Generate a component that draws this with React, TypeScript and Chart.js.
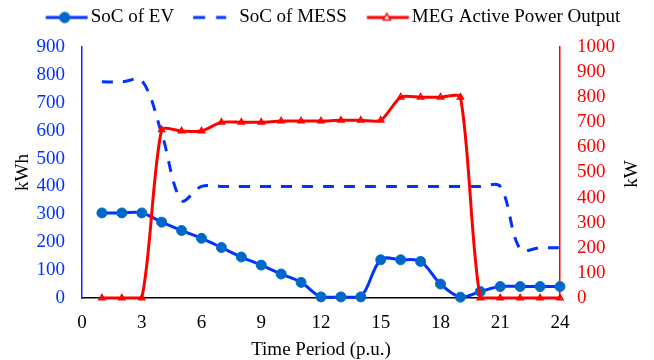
import React, { useEffect, useRef } from "react";
import { Chart, registerables } from "chart.js";

Chart.register(...registerables);

// ---------- data ----------
const periods = [1, 2, 3, 4, 5, 6, 7, 8, 9, 10, 11, 12, 13, 14, 15, 16, 17, 18, 19, 20, 21, 22, 23, 24];
const evSoC = [305, 305, 305, 272, 242, 214, 181, 147, 118, 86, 56, 4, 4, 4, 137, 137, 131, 50, 3, 23, 41, 41, 41, 41];
const messSoC = [775, 775, 780, 590, 350, 400, 400, 400, 400, 400, 400, 400, 400, 400, 400, 400, 400, 400, 400, 400, 400, 175, 180, 180];
const megPower = [0, 0, 0, 670, 665, 665, 700, 700, 700, 705, 705, 705, 708, 708, 708, 800, 800, 800, 800, 0, 0, 0, 0, 0];
const legendLabels = ["SoC of EV", "SoC of MESS", "MEG Active Power Output"];
const xTitle = "Time Period (p.u.)";
const leftTitle = "kWh";
const rightTitle = "kW";

// ---------- style ----------
const FONT = "'Liberation Serif', 'Times New Roman', Times, serif";
const FS = 19;
const BLUE = "#0033FF";
const EV_FILL = "#0066CC";
const EV_EDGE = "#0070C0";
const RED = "#FF0000";

function makeLegendImage(kind: "ev" | "mess" | "meg"): HTMLCanvasElement {
  const W = 62;
  const H = 16;
  const c = document.createElement("canvas");
  c.width = W;
  c.height = H;
  const ctx = c.getContext("2d")!;
  const x0 = 19.25;
  const x1 = 61.25;
  const y = H / 2;
  ctx.lineWidth = 3;
  if (kind === "ev") {
    ctx.strokeStyle = BLUE;
    ctx.beginPath();
    ctx.moveTo(x0, y);
    ctx.lineTo(x1, y);
    ctx.stroke();
    ctx.fillStyle = EV_FILL;
    ctx.strokeStyle = EV_EDGE;
    ctx.lineWidth = 1;
    ctx.beginPath();
    ctx.arc(x0 + 19, y, 5.2, 0, Math.PI * 2);
    ctx.fill();
    ctx.stroke();
  } else if (kind === "mess") {
    ctx.strokeStyle = BLUE;
    ctx.beginPath();
    ctx.moveTo(x0 - 1, y);
    ctx.lineTo(x0 + 11, y);
    ctx.moveTo(x0 + 22, y);
    ctx.lineTo(x0 + 32, y);
    ctx.stroke();
  } else {
    ctx.strokeStyle = RED;
    ctx.beginPath();
    ctx.moveTo(x0, y);
    ctx.lineTo(x1, y);
    ctx.stroke();
    const cx = x0 + 20;
    ctx.fillStyle = "#FFFFFF";
    ctx.lineWidth = 1.5;
    ctx.beginPath();
    ctx.moveTo(cx, y - 4);
    ctx.lineTo(cx + 3.6, y + 2.5);
    ctx.lineTo(cx - 3.6, y + 2.5);
    ctx.closePath();
    ctx.fill();
    ctx.stroke();
  }
  return c;
}

const legendShift = {
  id: "legendShift",
  afterLayout(chart: any) {
    const lg = chart.legend;
    if (lg) {
      lg.top -= 10;
      lg.bottom -= 10;
    }
  },
};

const rightTitlePlugin = {
  id: "rightTitle",
  afterDraw(chart: any) {
    const ctx = chart.ctx;
    ctx.save();
    ctx.translate(632, 174);
    ctx.rotate(-Math.PI / 2);
    ctx.font = `${FS}px ${FONT}`;
    ctx.fillStyle = "#000000";
    ctx.textAlign = "center";
    ctx.textBaseline = "middle";
    ctx.fillText(rightTitle, 0, 0);
    ctx.restore();
  },
};

export default function App() {
  const ref = useRef<HTMLCanvasElement | null>(null);

  useEffect(() => {
    if (!ref.current) return;
    const imgs = {
      ev: makeLegendImage("ev"),
      mess: makeLegendImage("mess"),
      meg: makeLegendImage("meg"),
    };
    const toXY = (vals: number[]) => periods.map((p, i) => ({ x: p, y: vals[i] }));

    const chart = new Chart(ref.current, {
      type: "line",
      data: {
        datasets: [
          {
            label: legendLabels[0],
            data: toXY(evSoC),
            yAxisID: "y",
            borderColor: BLUE,
            borderWidth: 3,
            pointRadius: 5,
            pointBackgroundColor: EV_FILL,
            pointBorderColor: EV_EDGE,
            pointBorderWidth: 1,
            tension: 0.35,
            borderJoinStyle: "round",
            order: 1,
            clip: { left: 10, right: 10, top: 10, bottom: 8 } as any,
          },
          {
            label: legendLabels[1],
            data: toXY(messSoC),
            yAxisID: "y",
            borderColor: BLUE,
            borderWidth: 3,
            borderDash: [11, 10],
            pointRadius: 0,
            tension: 0.35,
            order: 2,
            clip: { left: 10, right: 10, top: 10, bottom: 4 } as any,
          },
          {
            label: legendLabels[2],
            data: toXY(megPower),
            yAxisID: "y1",
            borderColor: RED,
            borderWidth: 3,
            pointStyle: "triangle",
            pointRadius: 3.5,
            pointBorderWidth: 1.5,
            pointBorderColor: RED,
            pointBackgroundColor: "rgba(255,255,255,0)",
            tension: 0.25,
            borderJoinStyle: "round",
            order: 0,
            clip: { left: 10, right: 10, top: 10, bottom: 4 } as any,
          },
        ],
      },
      options: {
        responsive: false,
        animation: false,
        layout: { padding: { top: 10, left: 0, right: 0, bottom: 0 } },
        plugins: {
          tooltip: { enabled: false },
          legend: {
            display: true,
            position: "top",
            align: "center",
            labels: {
              usePointStyle: true,
              pointStyleWidth: 47.5,
              padding: 8,
              color: "#000000",
              font: { family: FONT, size: FS },
              generateLabels: () => [
                { text: legendLabels[0], pointStyle: imgs.ev as any, datasetIndex: 0, hidden: false, lineWidth: 0, fontColor: "#000" },
                { text: legendLabels[1], pointStyle: imgs.mess as any, datasetIndex: 1, hidden: false, lineWidth: 0, fontColor: "#000" },
                { text: legendLabels[2], pointStyle: imgs.meg as any, datasetIndex: 2, hidden: false, lineWidth: 0, fontColor: "#000" },
              ],
            },
          },
        },
        scales: {
          x: {
            type: "linear",
            min: 0,
            max: 24,
            afterFit: (s: any) => {
              s.height = 62;
            },
            ticks: {
              stepSize: 3,
              autoSkip: false,
              color: "#000000",
              font: { family: FONT, size: FS },
              padding: 14,
              maxRotation: 0,
              callback: (v: any) => String(v),
            },
            grid: { display: true, color: "rgba(0,0,0,0)", drawTicks: false },
            border: { display: true, color: "#000000", width: 1.5 },
            title: {
              display: true,
              text: xTitle,
              color: "#000000",
              font: { family: FONT, size: FS, lineHeight: 1 },
              padding: { top: 0, bottom: 0 },
            },
          },
          y: {
            type: "linear",
            position: "left",
            min: 0,
            max: 900,
            afterFit: (s: any) => {
              s.width = 82;
            },
            ticks: {
              stepSize: 100,
              autoSkip: false,
              color: BLUE,
              font: { family: FONT, size: FS },
              padding: 17,
              callback: (v: any) => String(v),
            },
            grid: { display: true, color: "rgba(0,0,0,0)", drawTicks: false },
            border: { display: true, color: BLUE, width: 1.5 },
            title: {
              display: true,
              text: leftTitle,
              color: "#000000",
              font: { family: FONT, size: FS, lineHeight: 1 },
              padding: { top: 13.5, bottom: 0 },
            },
          },
          y1: {
            type: "linear",
            position: "right",
            min: 0,
            max: 1000,
            afterFit: (s: any) => {
              s.width = 94;
            },
            ticks: {
              stepSize: 100,
              autoSkip: false,
              color: RED,
              font: { family: FONT, size: FS },
              padding: 17,
              callback: (v: any) => String(v),
            },
            grid: { display: true, color: "rgba(0,0,0,0)", drawTicks: false },
            border: { display: true, color: RED, width: 1.5 },
            title: { display: false },
          },
        },
      },
      plugins: [legendShift, rightTitlePlugin],
    });

    return () => {
      chart.destroy();
    };
  }, []);

  return (
    <div style={{ position: "absolute", left: 0, top: 0, width: 654, height: 360, background: "#FFFFFF" }}>
      <canvas ref={ref} width={654} height={360} style={{ display: "block", width: 654, height: 360 }} />
    </div>
  );
}
